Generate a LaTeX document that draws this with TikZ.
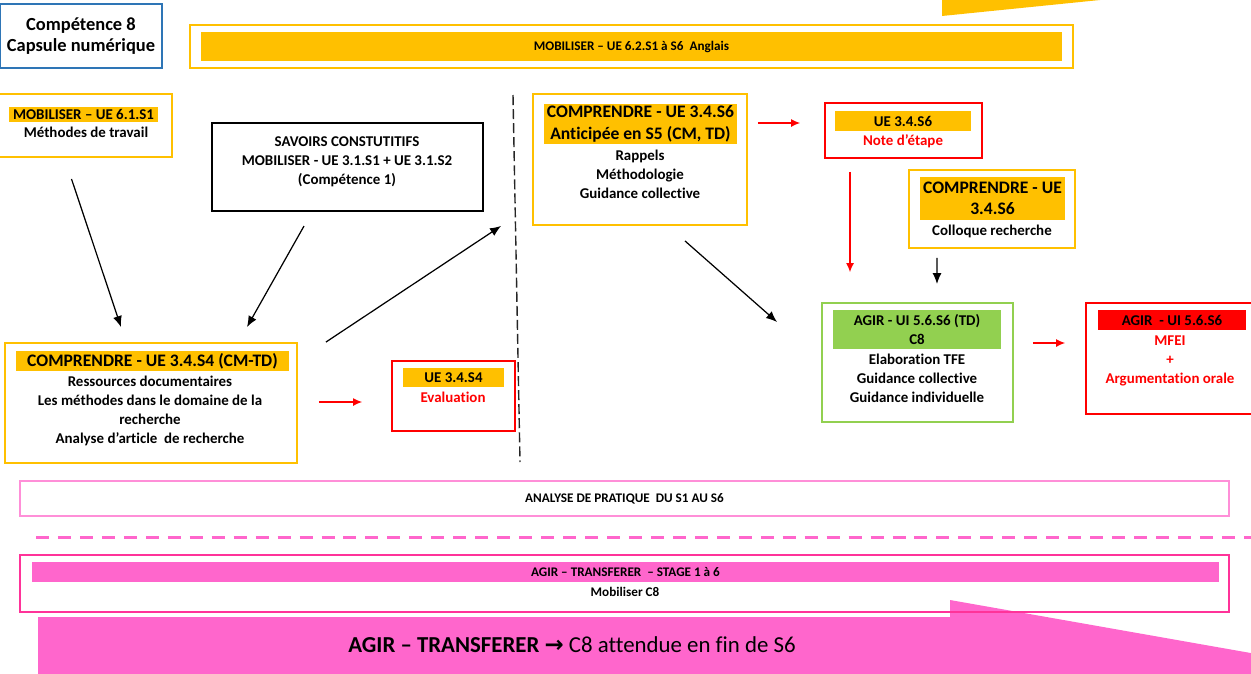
\documentclass[tikz,border=0pt]{standalone}
\usepackage{fontspec}
\setmainfont{Carlito}[Ligatures=NoCommon]
\newfontfamily\symfont{DejaVu Sans}
\usepackage{tikz}
\usetikzlibrary{arrows.meta,positioning,calc}
\definecolor{gold}{HTML}{FFC000}
\definecolor{capblue}{HTML}{2E75B6}
\definecolor{leaf}{HTML}{92D050}
\definecolor{pink}{HTML}{FF66CC}
\definecolor{pinkline}{HTML}{FF3399}
\definecolor{pinksoft}{HTML}{FF8FD8}

\begin{document}
\begin{tikzpicture}[x=0.02cm,y=0.02cm,
  box/.style={draw,line width=1.1pt,inner sep=0pt},
  hl/.style={inner sep=0pt,align=center,font=\fontsize{8.5}{10.2}\selectfont\bfseries},
  txt/.style={inner sep=0pt,align=center,font=\fontsize{8.5}{10.8}\selectfont\bfseries},
  tiny/.style={inner sep=0pt,align=center,font=\fontsize{7.5}{9}\selectfont\bfseries},
  arr/.style={-{Latex[length=2.2mm,width=1.8mm]},line width=0.7pt},
  redarr/.style={-{Latex[length=1.8mm,width=1.6mm]},red,line width=0.6pt}]
  \useasboundingbox (0,0) rectangle (1251,-673);
  \clip (0,0) rectangle (1251,-673);

  % top row
  \node[box,draw=capblue,minimum width=3.24cm,minimum height=1.28cm,align=center,
        font=\fontsize{10.5}{12}\selectfont\bfseries] (c8) at (81,-36) {Compétence 8\\Capsule numérique};
  \node[box,draw=gold,minimum width=17.66cm,minimum height=0.86cm] (mob) at (631.5,-46.5) {};
  \node[tiny,fill=gold,minimum width=17.22cm,minimum height=0.58cm] (mobh) at (631.5,-46.5) {MOBILISER – UE 6.2.S1 à S6~~Anglais};
  \fill[gold] (942,0) -- (942,-16) -- (1100,0) -- cycle;

  % left column
  \node[box,draw=gold,minimum width=3.5cm,minimum height=1.26cm] (m61) at (84.5,-125.5) {};
  \node[hl,fill=gold,minimum width=2.98cm,minimum height=0.3cm] (m61h) at (83.5,-114.5) {MOBILISER – UE 6.1.S1};
  \node[txt] (m61t) at (86,-132) {Méthodes de travail};

  \node[box,draw=black,line width=1.2pt,minimum width=5.42cm,minimum height=1.76cm] (sav) at (347.5,-167) {};
  \node[txt] (savt) at (347,-162) {SAVOIRS CONSTUTITIFS\\MOBILISER - UE 3.1.S1 + UE 3.1.S2\\(Compétence 1)};

  \node[box,draw=gold,minimum width=5.84cm,minimum height=2.4cm] (s4) at (151,-403) {};
  \node[hl,fill=gold,minimum width=5.46cm,minimum height=0.4cm,font=\fontsize{10}{12}\selectfont\bfseries] (s4h) at (152.5,-361) {COMPRENDRE - UE 3.4.S4 (CM-TD)};
  \node[txt] (s4t) at (150,-411) {Ressources documentaires\\Les méthodes dans le domaine de la\\recherche\\Analyse d’article~~de recherche};

  \node[box,draw=red,minimum width=2.46cm,minimum height=1.4cm] (ev) at (453.5,-396) {};
  \node[hl,fill=gold,minimum width=2.02cm,minimum height=0.38cm] (evh) at (453.5,-377.5) {UE 3.4.S4};
  \node[txt,text=red] (evt) at (453,-397) {Evaluation};

  % separator
  \draw[line width=0.8pt,black!85,dash pattern=on 5.7pt off 2.3pt] (513,-95) -- (520,-462);

  % right column
  \node[box,draw=gold,minimum width=4.28cm,minimum height=2.62cm] (s6) at (640,-159.5) {};
  \node[hl,fill=gold,minimum width=3.86cm,minimum height=0.8cm,font=\fontsize{10}{12.5}\selectfont\bfseries] (s6h) at (640.5,-124) {COMPRENDRE - UE 3.4.S6\\Anticipée en S5 (CM, TD)};
  \node[txt] (s6t) at (640,-174) {Rappels\\Méthodologie\\Guidance collective};

  \node[box,draw=red,minimum width=3.14cm,minimum height=1.1cm] (n6) at (903.5,-130.5) {};
  \node[hl,fill=gold,minimum width=2.72cm,minimum height=0.4cm] (n6h) at (903,-121) {UE 3.4.S6};
  \node[txt,text=red] (n6t) at (903,-141) {Note d’étape};

  \node[box,draw=gold,minimum width=3.32cm,minimum height=1.56cm] (col) at (992,-209) {};
  \node[hl,fill=gold,minimum width=2.9cm,minimum height=0.86cm,font=\fontsize{10}{12}\selectfont\bfseries] (colh) at (992.5,-198.5) {COMPRENDRE - UE\\3.4.S6};
  \node[txt] (colt) at (992,-231) {Colloque recherche};

  \node[box,draw=leaf,minimum width=3.82cm,minimum height=2.38cm] (agir) at (917.5,-362.5) {};
  \node[hl,fill=leaf,minimum width=3.36cm,minimum height=0.78cm,font=\fontsize{8.5}{10.8}\selectfont\bfseries] (agirh) at (917,-329.5) {AGIR - UI 5.6.S6 (TD)\\C8};
  \node[txt] (agirt) at (917,-378.5) {Elaboration TFE\\Guidance collective\\Guidance individuelle};

  \node[box,draw=red,minimum width=3.38cm,minimum height=2.22cm] (mfei) at (1170.5,-358.5) {};
  \node[hl,fill=red,minimum width=2.96cm,minimum height=0.4cm] (mfeih) at (1172,-320) {AGIR~~- UI 5.6.S6};
  \node[txt,text=red] (mfeit) at (1170,-361) {MFEI\\+\\Argumentation orale};

  % arrows
  \draw[arr] ([shift={(-13,-21)}]m61.south) -- ([shift={(-30,15)}]s4.north);
  \draw[arr] ([shift={(-43.5,-14)}]sav.south) -- ([shift={(96,15)}]s4.north);
  \draw[arr] ([shift={(28,0)}]s4.north east) -- ([shift={(-31,0)}]s6.south west);
  \draw[redarr] ([shift={(21,1)}]s4.east) -- ([shift={(-29,-6)}]ev.west);
  \draw[redarr] ([shift={(10,36.5)}]s6.east) -- ([shift={(-24,7.5)}]n6.west);
  \draw[redarr] ([shift={(-53.5,-13)}]n6.south) -- ([shift={(-67.5,30)}]agir.north);
  \draw[arr] ([shift={(-55,-9)}]col.south) -- ([shift={(19.5,18)}]agir.north);
  \draw[arr] ([shift={(45,-15)}]s6.south) -- ([shift={(-44,40.5)}]agir.west);
  \draw[redarr] ([shift={(19,19.5)}]agir.east) -- ([shift={(-20,15.5)}]mfei.west);

  % bottom bands
  \fill[pink] (38,-617) -- (950,-617) -- (950,-600) -- (1262,-655) -- (1262,-690) -- (38,-690) -- cycle;
  \node[box,draw=pinksoft,line width=1pt,minimum width=24.18cm,minimum height=0.7cm,tiny] (ana) at (624.5,-498.5) {ANALYSE DE PRATIQUE~~DU S1 AU S6};
  \draw[pink,line width=1.7pt,dash pattern=on 7.4pt off 5.1pt] (36,-537) -- (1251,-537);
  \node[box,draw=pinkline,line width=1pt,minimum width=24.18cm,minimum height=1.14cm] (stage) at (624.5,-583.5) {};
  \node[tiny,fill=pink,minimum width=23.74cm,minimum height=0.4cm] (stageh) at (625.5,-572) {AGIR – TRANSFERER~~– STAGE 1 à 6};
  \node[tiny] (staget) at (625,-592) {Mobiliser C8};
  \node[inner sep=0pt,font=\fontsize{13}{15}\selectfont] (goal) at (572,-645)
    {\textbf{AGIR – TRANSFERER} {\symfont\bfseries →}~C8 attendue en fin de S6};
\end{tikzpicture}
\end{document}
